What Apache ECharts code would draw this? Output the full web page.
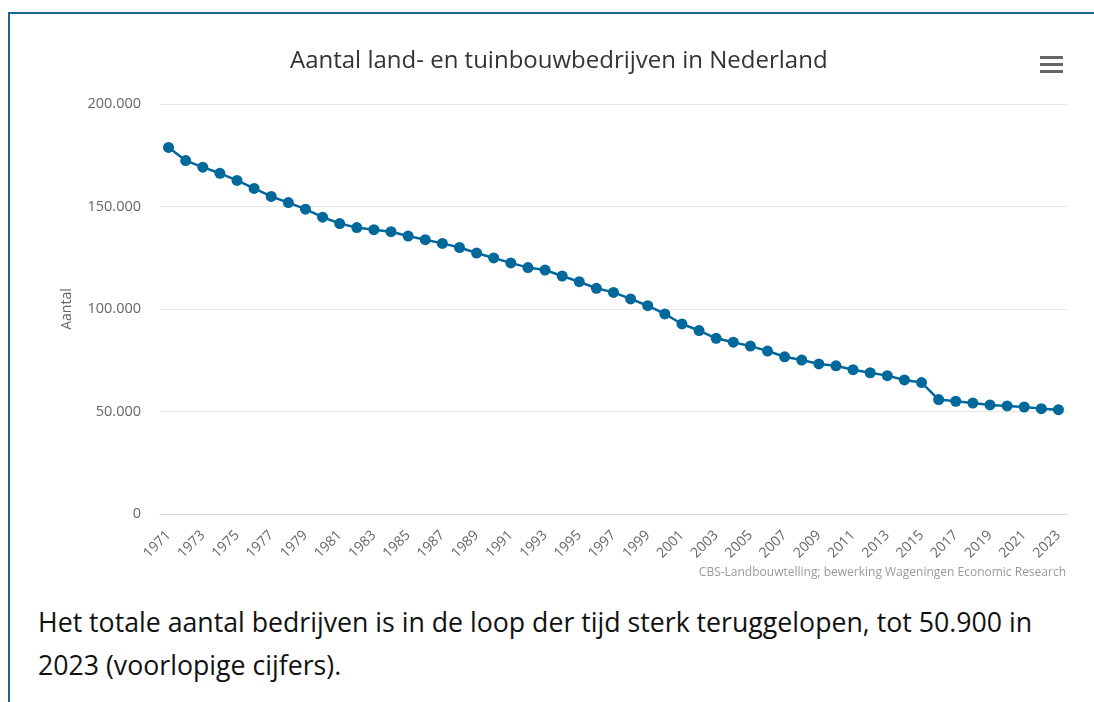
<!DOCTYPE html>
<html lang="nl">
<head>
  <meta charset="UTF-8">
  <title>Aantal land- en tuinbouwbedrijven in Nederland</title>
  <script src="https://cdn.jsdelivr.net/npm/echarts@6/dist/echarts.min.js"></script>
  <style type="text/css">
    html, body { margin: 0; padding: 0; background: #fff; }
    body { width: 1094px; height: 702px; position: relative; overflow: hidden; }
    .frame {
      position: absolute; left: 8px; top: 12px; right: 0; bottom: 0;
      border-top: 2px solid #1a6690; border-left: 2px solid #1a6690;
    }
    #main { position: absolute; left: 0; top: 0; width: 1094px; height: 600px; }
    .tekst {
      position: absolute; left: 38px; top: 600px; margin: 0;
      font-family: "Open Sans", sans-serif; font-size: 26.7px; line-height: 43px; color: #111;
      white-space: nowrap;
    }
  </style>
</head>
<body>
  <div class="frame"></div>
  <div id="main"></div>
  <p class="tekst">Het totale aantal bedrijven is in de loop der tijd sterk teruggelopen, tot 50.900 in<br>2023 (voorlopige cijfers).</p>

  <script type="text/javascript">
    var years = ['1971','1972','1973','1974','1975','1976','1977','1978','1979','1980',
      '1981','1982','1983','1984','1985','1986','1987','1988','1989','1990',
      '1991','1992','1993','1994','1995','1996','1997','1998','1999','2000',
      '2001','2002','2003','2004','2005','2006','2007','2008','2009','2010',
      '2011','2012','2013','2014','2015','2016','2017','2018','2019','2020',
      '2021','2022','2023'];

    // aantal bedrijven per jaar
    var aantal = [178800, 172400, 169200, 166200, 162700, 158800, 154900, 151900, 148700, 144800,
      141700, 139700, 138700, 137700, 135600, 133800, 132000, 130000, 127300, 124900,
      122500, 120200, 119000, 116100, 113300, 110100, 108100, 104900, 101600, 97600,
      92700, 89500, 85700, 83800, 81900, 79500, 76700, 75100, 73200, 72300,
      70400, 68900, 67500, 65400, 64100, 55800, 55000, 54100, 53200, 52700,
      52200, 51400, 50900];

    var yTicks = [0, 50000, 100000, 150000, 200000];

    function fmt(v) {
      return String(v).replace(/\B(?=(\d{3})+(?!\d))/g, '.');
    }

    var myChart = echarts.init(document.getElementById('main'));

    var option = {
      animation: false,
      textStyle: { fontFamily: 'Open Sans' },
      title: [{
        text: 'Aantal land- en tuinbouwbedrijven in Nederland',
        left: 285,
        top: 44,
        textStyle: { fontSize: 24, fontWeight: 'normal', color: '#333', fontFamily: 'Open Sans' }
      }, {
        text: 'CBS-Landbouwtelling; bewerking Wageningen Economic Research',
        right: 23,
        top: 562,
        textStyle: { fontSize: 12, fontWeight: 'normal', color: '#999', fontFamily: 'Open Sans' }
      }],
      toolbox: {
        right: 16,
        top: 41,
        itemSize: 23,
        feature: {
          myMenu: {
            show: true,
            title: '',
            icon: 'path://M0,0H23V3H0Z M0,7H23V10H0Z M0,14H23V17H0Z',
            onclick: function () {}
          }
        },
        iconStyle: { color: '#666', borderWidth: 0 },
        emphasis: { iconStyle: { color: '#333', borderWidth: 0, textFill: 'transparent' } }
      },
      grid: { left: 160, right: 27, top: 104, bottom: 86 },
      xAxis: {
        type: 'category',
        data: years,
        boundaryGap: true,
        axisLine: { lineStyle: { color: '#ccd6eb', width: 1 } },
        axisTick: { show: false },
        axisLabel: {
          interval: 1,
          rotate: 45,
          margin: 19,
          fontSize: 14,
          color: '#666'
        }
      },
      yAxis: {
        type: 'value',
        min: 0,
        max: yTicks[yTicks.length - 1],
        interval: yTicks[1] - yTicks[0],
        name: 'Aantal',
        nameLocation: 'middle',
        nameGap: 86,
        nameTextStyle: { fontSize: 14, color: '#666' },
        axisLine: { show: false },
        axisTick: { show: false },
        splitLine: { lineStyle: { color: '#e6e6e6', width: 1 } },
        axisLabel: {
          margin: 19,
          fontSize: 14.5,
          color: '#666',
          formatter: function (v) { return fmt(v); }
        }
      },
      series: [{
        name: 'Aantal',
        type: 'line',
        data: aantal,
        symbol: 'circle',
        symbolSize: 11,
        lineStyle: { color: '#01689B', width: 2.5 },
        itemStyle: { color: '#01689B' }
      }]
    };

    myChart.setOption(option);
  </script>
</body>
</html>
